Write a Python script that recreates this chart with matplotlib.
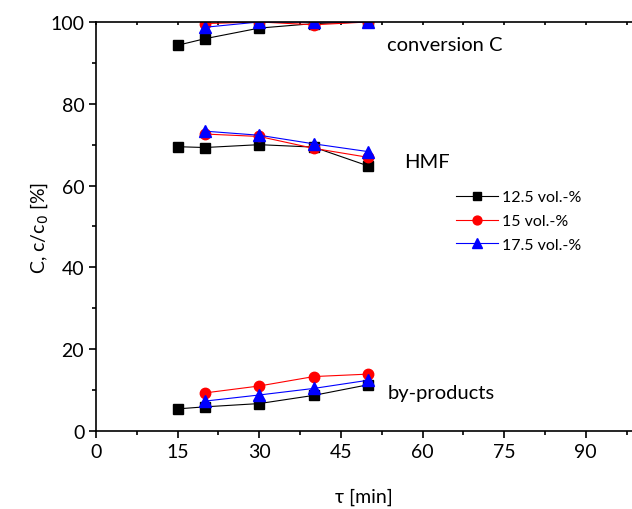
import matplotlib
matplotlib.use('Agg')
import matplotlib.pyplot as plt
from matplotlib.ticker import MultipleLocator

plt.rcParams['font.family'] = ['Lato', 'DejaVu Sans']

# residence time [min]
tau_125 = [15, 20, 30, 40, 50]
tau_other = [20, 30, 40, 50]

# conversion C [%]
conv_125 = [94.3, 95.9, 98.5, 99.6, 100.0]
conv_15 = [99.6, 100.0, 99.3, 100.0]
conv_175 = [98.7, 100.0, 100.0, 100.0]

# HMF yield [%]
hmf_125 = [69.5, 69.3, 70.0, 69.4, 64.8]
hmf_15 = [72.6, 72.0, 69.1, 66.9]
hmf_175 = [73.3, 72.3, 70.2, 68.3]

# by-products [%]
byp_125 = [5.4, 5.9, 6.7, 8.7, 11.3]
byp_15 = [9.3, 11.0, 13.3, 13.9]
byp_175 = [7.3, 8.8, 10.4, 12.4]

labels = ['12.5 vol.-%', '15 vol.-%', '17.5 vol.-%']

fig = plt.figure(figsize=(6.32, 5.10), dpi=100)
ax = fig.add_axes([0.152, 0.153, 0.848, 0.802])

style_125 = dict(color='black', marker='s', markersize=6.5, lw=0.8)
style_15 = dict(color='red', marker='o', markersize=7.5, lw=0.8)
style_175 = dict(color='blue', marker='^', markersize=8, lw=0.8)

for i, (a, b, c) in enumerate([(conv_125, conv_15, conv_175),
                               (hmf_125, hmf_15, hmf_175),
                               (byp_125, byp_15, byp_175)]):
    ax.plot(tau_125, a, label=labels[0] if i == 0 else None, **style_125)
    ax.plot(tau_other, b, label=labels[1] if i == 0 else None, **style_15)
    ax.plot(tau_other, c, label=labels[2] if i == 0 else None, **style_175)

ax.text(53.5, 94.6, 'conversion C', fontsize=14.5, va='center')
ax.text(56.6, 65.8, 'HMF', fontsize=14.5, va='center')
ax.text(53.5, 9.5, 'by-products', fontsize=14.5, va='center')

ax.set_xlim(0, 98.5)
ax.set_ylim(0, 100)
ax.xaxis.set_major_locator(MultipleLocator(15))
ax.xaxis.set_minor_locator(MultipleLocator(7.5))
ax.yaxis.set_major_locator(MultipleLocator(20))
ax.yaxis.set_minor_locator(MultipleLocator(10))
ax.tick_params(which='both', direction='out', labelsize=14, width=1.2)
ax.tick_params(which='major', length=5)
ax.tick_params(which='minor', length=3)
ax.tick_params(axis='x', which='both', top=True, labeltop=False)
# top axis ticks point inward
for t in ax.xaxis.get_major_ticks() + ax.xaxis.get_minor_ticks():
    t.tick2line.set_marker(3)
    t.tick2line.set_markersize(2.5)
ax.spines['right'].set_visible(False)
for s in ['left', 'bottom', 'top']:
    ax.spines[s].set_linewidth(1.2)

ax.set_xlabel('τ [min]', fontsize=14, labelpad=20)
ax.set_ylabel('C, c/c$_0$ [%]', fontsize=14, labelpad=0)

leg = ax.legend(loc='center left', bbox_to_anchor=(0.645, 0.513), frameon=False,
                fontsize=11.5, handlelength=2.6, handletextpad=0.3, labelspacing=0.6,
                markerscale=0.85)

fig.savefig('out.png', dpi=100)
